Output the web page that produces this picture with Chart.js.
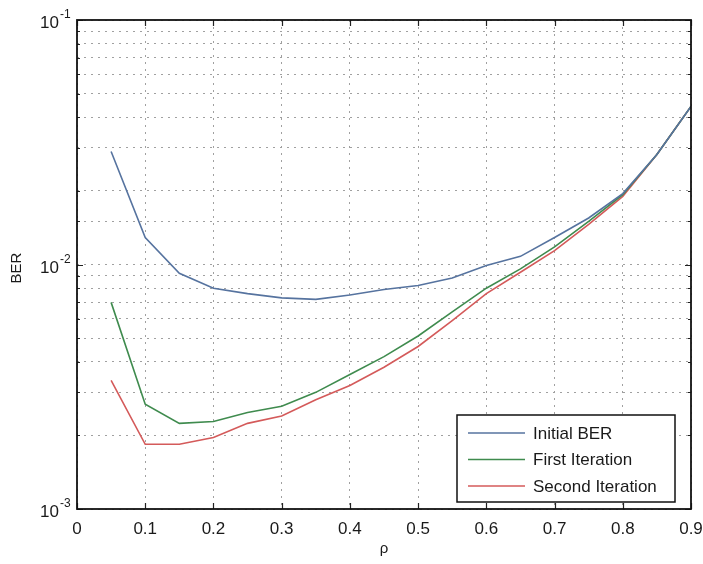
<!DOCTYPE html>
<html>
<head>
<meta charset="utf-8">
<script src="https://cdn.jsdelivr.net/npm/chart.js@4/dist/chart.umd.min.js"></script>
<style>
  html, body { margin: 0; padding: 0; background: #ffffff; }
  #wrap { width: 703px; height: 564px; }
</style>
</head>
<body>
<div id="wrap"><canvas id="c" width="703" height="564"></canvas></div>
<script>
// Correlation coefficient values (x axis)
const rho = [0.05, 0.1, 0.15, 0.2, 0.25, 0.3, 0.35, 0.4, 0.45, 0.5,
             0.55, 0.6, 0.65, 0.7, 0.75, 0.8, 0.85, 0.9];

// Bit error rate per decoding stage
const initialBER = [0.0290, 0.0129, 0.0092, 0.0080, 0.0076, 0.0073, 0.0072, 0.0075, 0.0079,
                    0.0082, 0.0088, 0.0099, 0.0108, 0.0129, 0.0155, 0.0195, 0.0282, 0.0443];
const firstIteration = [0.0070, 0.00268, 0.00224, 0.00228, 0.00248, 0.00263, 0.0030, 0.00355, 0.0042,
                        0.0051, 0.0064, 0.0080, 0.0096, 0.0118, 0.0150, 0.0193, 0.0282, 0.0443];
const secondIteration = [0.00336, 0.00184, 0.00184, 0.00196, 0.00224, 0.0024, 0.0028, 0.0032, 0.0038,
                         0.00462, 0.0059, 0.0076, 0.0093, 0.0114, 0.0146, 0.0190, 0.0282, 0.0443];

const seriesLabels = ['Initial BER', 'First Iteration', 'Second Iteration'];

// Axis ticks
const xTicks = [0, 0.1, 0.2, 0.3, 0.4, 0.5, 0.6, 0.7, 0.8, 0.9];
const yDecades = [0.001, 0.01, 0.1];
const yDecadeExponents = ['-3', '-2', '-1'];

const FONT = '"Liberation Sans", Arial, Helvetica, sans-serif';
const colors = ['#56739f', '#3f8b4e', '#d45a5a'];

function pts(ys) { return rho.map((x, i) => ({ x: x, y: ys[i] })); }

// Draws the box, inward tick marks, decade labels, axis titles and legend
const framePlugin = {
  id: 'frame',
  afterDraw(chart) {
    const ctx = chart.ctx;
    const a = chart.chartArea;
    const xs = chart.scales.x, ys = chart.scales.y;
    ctx.save();

    // inward tick marks
    ctx.strokeStyle = '#222';
    ctx.lineWidth = 1.2;
    ctx.beginPath();
    xTicks.forEach(v => {
      const px = Math.round(xs.getPixelForValue(v)) + 0.5;
      ctx.moveTo(px, a.bottom); ctx.lineTo(px, a.bottom - 6);
      ctx.moveTo(px, a.top); ctx.lineTo(px, a.top + 6);
    });
    ys.ticks.forEach(t => {
      const py = Math.round(ys.getPixelForValue(t.value)) + 0.5;
      const major = yDecades.some(d => Math.abs(d - t.value) < 1e-12);
      const len = major ? 6 : 3;
      ctx.moveTo(a.left, py); ctx.lineTo(a.left + len, py);
      ctx.moveTo(a.right, py); ctx.lineTo(a.right - len, py);
    });
    ctx.stroke();

    // axes box
    ctx.strokeStyle = '#111';
    ctx.lineWidth = 1.8;
    ctx.strokeRect(a.left, a.top, a.right - a.left, a.bottom - a.top);

    // decade labels 10^n
    ctx.fillStyle = '#1a1a1a';
    yDecades.forEach((d, i) => {
      const py = ys.getPixelForValue(d);
      ctx.font = '17px ' + FONT;
      ctx.textAlign = 'left';
      ctx.textBaseline = 'alphabetic';
      ctx.fillText('10', 40, py + 8);
      ctx.font = '12px ' + FONT;
      ctx.fillText(yDecadeExponents[i], 60, py - 2);
    });

    // axis titles
    ctx.font = '15px ' + FONT;
    ctx.textAlign = 'center';
    ctx.textBaseline = 'middle';
    ctx.fillText('\u03C1', 384, 549);
    ctx.save();
    ctx.translate(17, 268);
    ctx.rotate(-Math.PI / 2);
    ctx.fillText('BER', 0, 0);
    ctx.restore();

    // legend
    const lx = 457, ly = 415, lw = 218, lh = 87;
    ctx.fillStyle = '#ffffff';
    ctx.fillRect(lx, ly, lw, lh);
    ctx.strokeStyle = '#111';
    ctx.lineWidth = 1.5;
    ctx.strokeRect(lx, ly, lw, lh);
    ctx.font = '17px ' + FONT;
    ctx.textAlign = 'left';
    ctx.textBaseline = 'middle';
    chart.data.datasets.forEach((ds, i) => {
      const ry = ly + 18 + i * 26.5;
      ctx.strokeStyle = ds.borderColor;
      ctx.lineWidth = 1.5;
      ctx.beginPath();
      ctx.moveTo(lx + 11, ry); ctx.lineTo(lx + 68, ry);
      ctx.stroke();
      ctx.fillStyle = '#1a1a1a';
      ctx.fillText(ds.label, lx + 76, ry + 1);
    });

    ctx.restore();
  }
};

new Chart(document.getElementById('c'), {
  type: 'line',
  data: {
    datasets: [
      { label: seriesLabels[0], data: pts(initialBER), borderColor: colors[0] },
      { label: seriesLabels[1], data: pts(firstIteration), borderColor: colors[1] },
      { label: seriesLabels[2], data: pts(secondIteration), borderColor: colors[2] }
    ].map(d => Object.assign(d, { borderWidth: 1.6, pointRadius: 0, tension: 0, fill: false }))
  },
  options: {
    responsive: false,
    animation: false,
    layout: { padding: { left: 0, right: 0, top: 20, bottom: 0 } },
    plugins: { legend: { display: false }, tooltip: { enabled: false } },
    scales: {
      x: {
        type: 'linear',
        min: 0, max: 0.9,
        afterBuildTicks(scale) { scale.ticks = xTicks.map(v => ({ value: v })); },
        afterFit(scale) { scale.height = 55; scale.paddingRight = 12; scale.paddingLeft = 0; },
        ticks: {
          color: '#1a1a1a',
          font: { family: FONT, size: 17 },
          padding: 10,
          maxRotation: 0,
          callback: v => String(Math.round(v * 10) / 10)
        },
        grid: { color: '#a0a0a0', lineWidth: 1, drawTicks: false },
        border: { display: false, dash: [2, 5] }
      },
      y: {
        type: 'logarithmic',
        min: 0.001, max: 0.1,
        afterFit(scale) { scale.width = 77; },
        ticks: { callback: () => '', autoSkip: false },
        grid: { color: '#a0a0a0', lineWidth: 1, drawTicks: false },
        border: { display: false, dash: [2, 5] }
      }
    }
  },
  plugins: [framePlugin]
});
</script>
</body>
</html>
